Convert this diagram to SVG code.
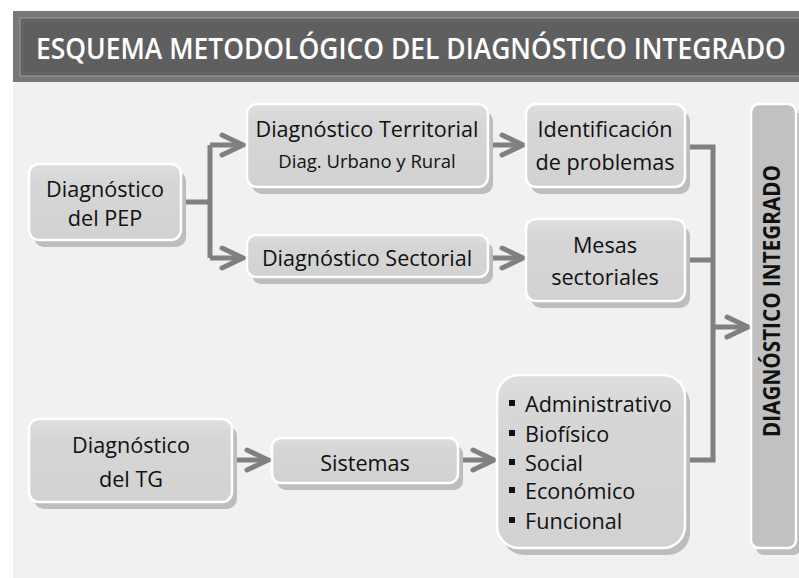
<svg xmlns="http://www.w3.org/2000/svg" width="799" height="578" viewBox="0 0 799 578">
<defs>
<linearGradient id="g" x1="0" y1="0" x2="0" y2="1">
<stop offset="0" stop-color="#dedede"/>
<stop offset="0.25" stop-color="#d6d6d6"/>
<stop offset="1" stop-color="#d2d2d2"/>
</linearGradient>
</defs>
<style>
.sh{fill:#bdbdbd}
.bx{fill:url(#g);stroke:#ffffff;stroke-width:2.5}
.t{font-family:"Open Sans","Noto Sans","Liberation Sans",sans-serif;font-size:21.6px;fill:#111;text-anchor:middle}
.ts{font-size:18.5px}
.tl{text-anchor:start}
.c{fill:none;stroke:#808080;stroke-width:5}
.ah{fill:none;stroke:#808080;stroke-width:5;stroke-linecap:round;stroke-linejoin:miter}
</style>
<rect x="0" y="0" width="799" height="578" fill="#ffffff"/>
<rect x="13" y="82" width="786" height="496" fill="#f1f1f1"/>
<g id="title">
<rect x="13" y="11" width="786" height="71" fill="#787878"/>
<rect x="20" y="18" width="790" height="58" fill="#5f5f5f" stroke="#8e8e8e" stroke-width="1.5"/>
<rect x="23" y="21" width="790" height="52" fill="none" stroke="#6e6e6e" stroke-width="1"/>
<text transform="translate(36,59) scale(0.86,1)" x="0" y="0" font-family="'Open Sans','Noto Sans','Liberation Sans',sans-serif" font-size="28" font-weight="600" fill="#ffffff" textLength="872" lengthAdjust="spacingAndGlyphs">ESQUEMA METODOLÓGICO DEL DIAGNÓSTICO INTEGRADO</text>
</g>
<g id="connectors">
<path class="c" d="M181,202 H210 M210,145 V258 M210,145 H242 M210,258 H242"/>
<path class="ah" d="M222,135 L243,145 L222,155 M222,248 L243,258 L222,268"/>
<path class="c" d="M488,145 H522 M488,258 H522"/>
<path class="ah" d="M502,135 L523,145 L502,155 M502,248 L523,258 L502,268"/>
<path class="c" d="M685,147 H713 M685,260 H713 M685,460 H713 M713,144.5 V462.5 M713,327 H747"/>
<path class="ah" d="M727,317 L748,327 L727,337"/>
<path class="c" d="M232,460 H267 M458,460 H493"/>
<path class="ah" d="M247,450 L268,460 L247,470 M473,450 L494,460 L473,470"/>
</g>
<g id="pep">
<rect class="sh" x="34" y="171" width="152" height="76" rx="10"/>
<rect class="bx" x="29" y="164" width="152" height="76" rx="10"/>
<text class="t" x="105" y="197">Diagnóstico</text>
<text class="t" x="105" y="226">del PEP</text>
</g>
<g id="territorial">
<rect class="sh" x="252" y="111" width="241" height="83" rx="10"/>
<rect class="bx" x="247" y="104" width="241" height="83" rx="10"/>
<text class="t" x="367" y="137">Diagnóstico Territorial</text>
<text class="t ts" x="367" y="168">Diag. Urbano y Rural</text>
</g>
<g id="sectorial">
<rect class="sh" x="252" y="242" width="241" height="42" rx="9"/>
<rect class="bx" x="247" y="235" width="241" height="42" rx="9"/>
<text class="t" x="367" y="266">Diagnóstico Sectorial</text>
</g>
<g id="identificacion">
<rect class="sh" x="531" y="111" width="159" height="83" rx="10"/>
<rect class="bx" x="526" y="104" width="159" height="83" rx="10"/>
<text class="t" x="605" y="137">Identificación</text>
<text class="t" x="605" y="170">de problemas</text>
</g>
<g id="mesas">
<rect class="sh" x="531" y="226" width="159" height="82" rx="10"/>
<rect class="bx" x="526" y="219" width="159" height="82" rx="10"/>
<text class="t" x="605" y="253">Mesas</text>
<text class="t" x="605" y="285">sectoriales</text>
</g>
<g id="tg">
<rect class="sh" x="34" y="426" width="203" height="83" rx="10"/>
<rect class="bx" x="29" y="419" width="203" height="83" rx="10"/>
<text class="t" x="131" y="453">Diagnóstico</text>
<text class="t" x="131" y="487">del TG</text>
</g>
<g id="sistemas">
<rect class="sh" x="277" y="445" width="186" height="45" rx="9"/>
<rect class="bx" x="272" y="438" width="186" height="45" rx="9"/>
<text class="t" x="365" y="471">Sistemas</text>
</g>
<g id="lista">
<rect class="sh" x="502" y="382" width="188" height="173" rx="22"/>
<rect class="bx" x="497" y="375" width="188" height="173" rx="22"/>
<g fill="#111">
<rect x="509" y="400" width="6" height="6"/>
<rect x="509" y="430" width="6" height="6"/>
<rect x="509" y="459" width="6" height="6"/>
<rect x="509" y="487" width="6" height="6"/>
<rect x="509" y="517" width="6" height="6"/>
</g>
<text class="t tl" x="525" y="412">Administrativo</text>
<text class="t tl" x="525" y="442">Biofísico</text>
<text class="t tl" x="525" y="471">Social</text>
<text class="t tl" x="525" y="499">Económico</text>
<text class="t tl" x="525" y="529">Funcional</text>
</g>
<g id="integrado">
<rect class="sh" x="756" y="111" width="45" height="444" rx="8"/>
<rect x="751" y="104" width="45" height="444" rx="8" fill="#c1c1c1" stroke="#ffffff" stroke-width="2.5"/>
<text transform="translate(780,301) rotate(-90)" x="0" y="0" text-anchor="middle" font-family="'Open Sans','Noto Sans','Liberation Sans',sans-serif" font-size="23" font-weight="700" fill="#111" textLength="272" lengthAdjust="spacingAndGlyphs">DIAGNÓSTICO INTEGRADO</text>
</g>
</svg>
